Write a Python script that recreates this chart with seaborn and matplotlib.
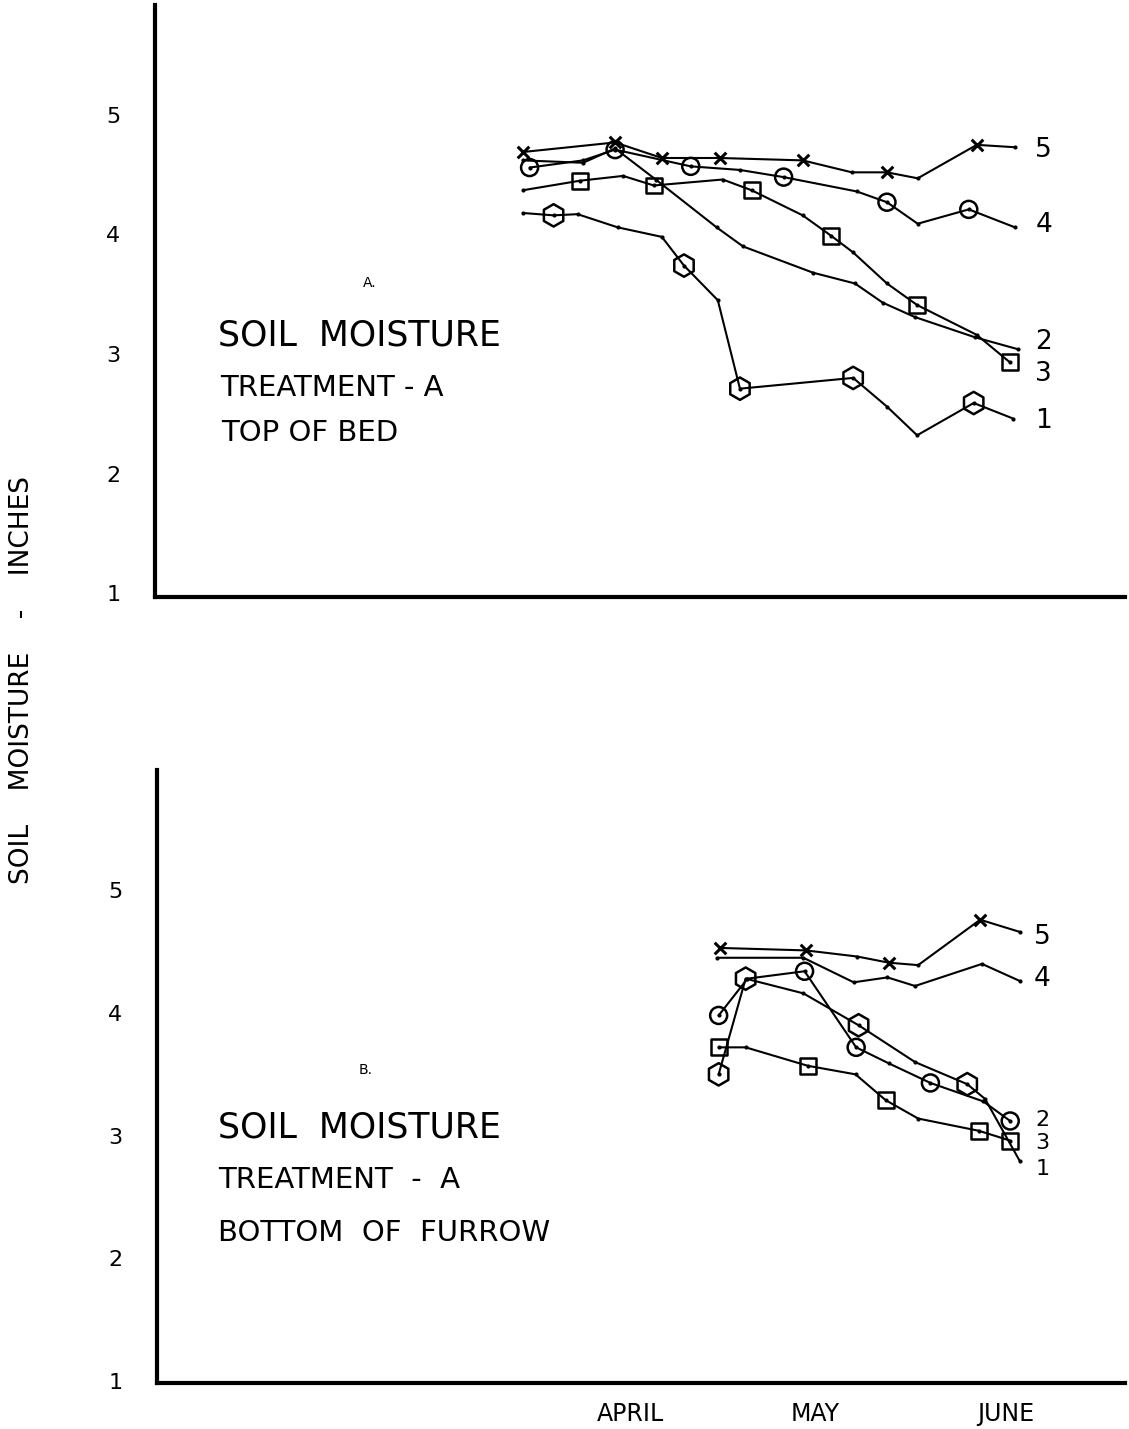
import matplotlib
matplotlib.use("Agg")
import matplotlib.pyplot as plt
import pandas as pd
import seaborn as sns

# ---------------- data ----------------
months = ["APRIL", "MAY", "JUNE"]
month_days = [15, 45, 76]
y_ticks = [1, 2, 3, 4, 5]

# Panel A - top of bed
a1_day = [-2.4, 2.6, 6.5, 13.0, 20.2, 23.8, 29.3, 32.9, 51.3, 56.8, 61.7, 70.9, 77.3]
a1_val = [4.18, 4.16, 4.17, 4.06, 3.98, 3.74, 3.45, 2.71, 2.80, 2.56, 2.32, 2.59, 2.46]
a1_big = [1, 5, 7, 8, 11]

a2_day = [-2.4, 7.4, 12.6, 19.2, 29.1, 33.4, 44.8, 51.6, 56.1, 61.3, 71.1, 78.1]
a2_val = [4.62, 4.60, 4.72, 4.46, 4.06, 3.90, 3.68, 3.59, 3.43, 3.31, 3.14, 3.04]
a2_big = []

a3_day = [-2.4, 6.9, 13.9, 18.9, 30.1, 34.8, 43.1, 47.7, 51.3, 56.8, 61.7, 71.4, 76.8]
a3_val = [4.37, 4.45, 4.49, 4.41, 4.46, 4.37, 4.16, 3.99, 3.85, 3.59, 3.41, 3.16, 2.93]
a3_big = [1, 3, 5, 7, 10, 12]

a4_day = [-1.3, 7.4, 12.6, 24.9, 32.9, 40.0, 51.9, 56.8, 61.8, 70.1, 77.6]
a4_val = [4.56, 4.62, 4.71, 4.57, 4.54, 4.48, 4.36, 4.27, 4.09, 4.21, 4.06]
a4_big = [0, 2, 3, 5, 7, 9]

a5_day = [-2.4, 12.6, 20.2, 29.6, 43.1, 51.1, 56.8, 61.8, 71.4, 77.6]
a5_val = [4.69, 4.77, 4.64, 4.64, 4.62, 4.52, 4.52, 4.47, 4.75, 4.73]
a5_big = [0, 1, 2, 3, 4, 6, 8]

# Panel B - bottom of furrow
b1_day = [29.3, 33.7, 43.1, 52.1, 61.3, 69.8, 72.7, 78.4]
b1_val = [3.50, 4.28, 4.16, 3.90, 3.60, 3.42, 3.30, 2.79]
b1_big = [0, 1, 3, 5]

b2_day = [29.3, 34.0, 43.3, 51.7, 57.0, 63.8, 72.4, 76.8]
b2_val = [3.98, 4.28, 4.34, 3.72, 3.59, 3.43, 3.28, 3.12]
b2_big = [0, 2, 3, 5, 7]

b3_day = [29.3, 33.7, 43.8, 51.6, 56.5, 61.8, 71.7, 76.8]
b3_val = [3.72, 3.72, 3.57, 3.50, 3.29, 3.14, 3.04, 2.96]
b3_big = [0, 2, 4, 6, 7]

b4_day = [29.1, 43.1, 51.3, 56.8, 61.3, 72.2, 78.4]
b4_val = [4.45, 4.45, 4.25, 4.29, 4.22, 4.40, 4.26]
b4_big = []

b5_day = [29.6, 43.5, 51.9, 57.0, 61.8, 71.9, 78.4]
b5_val = [4.53, 4.51, 4.46, 4.41, 4.39, 4.76, 4.66]
b5_big = [0, 1, 3, 5]

a_labels = ["1", "2", "3", "4", "5"]
a_label_y = [2.44, 3.10, 2.83, 4.08, 4.71]
b_labels = ["1", "2", "3", "4", "5"]
b_label_y = [2.73, 3.13, 2.94, 4.28, 4.62]

# ---------------- style ----------------
sns.set_theme(style="white")
plt.rcParams["font.family"] = ["DejaVu Sans"]
plt.rcParams["text.color"] = "black"
plt.rcParams["xtick.color"] = "black"
plt.rcParams["ytick.color"] = "black"
plt.rcParams["axes.labelcolor"] = "black"

W, H = 1129, 1429
fig = plt.figure(figsize=(W / 100, H / 100), dpi=100)


def fx(px):
    return px / W


def fy(py):
    return 1 - py / H


ax_a = fig.add_axes([fx(155), fy(597), fx(1125) - fx(155), fy(5) - fy(597)])
ax_b = fig.add_axes([fx(157), fy(1383), fx(1125) - fx(157), fy(770) - fy(1383)])

marker_sizes = {"h": 260, "o": 150, "s": 130, "x": 70}


def draw(ax, series):
    for days, vals, big, marker in series:
        df = pd.DataFrame({"day": days, "val": vals})
        sns.lineplot(data=df, x="day", y="val", ax=ax, color="black", lw=1.5,
                     sort=False, estimator=None, marker="o", markersize=3,
                     markeredgewidth=0)
        if big:
            sub = df.iloc[big]
            if marker == "x":
                sns.scatterplot(data=sub, x="day", y="val", ax=ax, marker="x",
                                s=marker_sizes["x"], color="black", linewidth=2.2,
                                zorder=4)
            else:
                sns.scatterplot(data=sub, x="day", y="val", ax=ax, marker=marker,
                                s=marker_sizes[marker], color="black",
                                facecolors="none", edgecolor="black",
                                linewidth=1.8, zorder=4)


draw(ax_a, [(a1_day, a1_val, a1_big, "h"), (a2_day, a2_val, a2_big, "o"),
            (a3_day, a3_val, a3_big, "s"), (a4_day, a4_val, a4_big, "o"),
            (a5_day, a5_val, a5_big, "x")])
draw(ax_b, [(b1_day, b1_val, b1_big, "h"), (b2_day, b2_val, b2_big, "o"),
            (b3_day, b3_val, b3_big, "s"), (b4_day, b4_val, b4_big, "o"),
            (b5_day, b5_val, b5_big, "x")])

for ax, ylim in ((ax_a, (0.967, 5.92)), (ax_b, (0.985, 5.98))):
    ax.set_xlim(-62.2, 95.5)
    ax.set_ylim(*ylim)
    ax.set_facecolor("white")
    for s in ("top", "right"):
        ax.spines[s].set_visible(False)
    for s in ("left", "bottom"):
        ax.spines[s].set_color("black")
        ax.spines[s].set_linewidth(3)
    ax.set_yticks(y_ticks)
    ax.set_yticklabels([str(t) for t in y_ticks], fontsize=16, color="black")
    ax.tick_params(axis="y", length=0, pad=25)
    ax.set_xlabel("")
    ax.set_ylabel("")
    ax.grid(False)

ax_a.set_xticks([])
ax_b.set_xticks(month_days)
ax_b.set_xticklabels(months, fontsize=17, color="black")
ax_b.tick_params(axis="x", length=0, pad=14)

for lab, yv in zip(a_labels, a_label_y):
    ax_a.text(82.3, yv, lab, fontsize=19, ha="center", va="center")
for lab, yv in zip(b_labels, b_label_y):
    size = 19 if lab in ("4", "5") else 16
    ax_b.text(82.0, yv, lab, fontsize=size, ha="center", va="center")

# panel texts
fig.text(fx(370), fy(283), "A.", fontsize=10, ha="center", va="center")
fig.text(fx(218), fy(336), "SOIL  MOISTURE", fontsize=25, ha="left", va="center")
fig.text(fx(220), fy(388), "TREATMENT - A", fontsize=21, ha="left", va="center")
fig.text(fx(221), fy(433), "TOP OF BED", fontsize=21, ha="left", va="center")

fig.text(fx(366), fy(1070), "B.", fontsize=10, ha="center", va="center")
fig.text(fx(218), fy(1128), "SOIL  MOISTURE", fontsize=25, ha="left", va="center")
fig.text(fx(218), fy(1180), "TREATMENT  -  A", fontsize=21, ha="left", va="center")
fig.text(fx(218), fy(1233), "BOTTOM  OF  FURROW", fontsize=21, ha="left", va="center")

fig.text(fx(22), fy(680), "SOIL    MOISTURE    -    INCHES", fontsize=19,
         rotation=90, ha="center", va="center")

fig.savefig("out.png", dpi=100, facecolor="white")
